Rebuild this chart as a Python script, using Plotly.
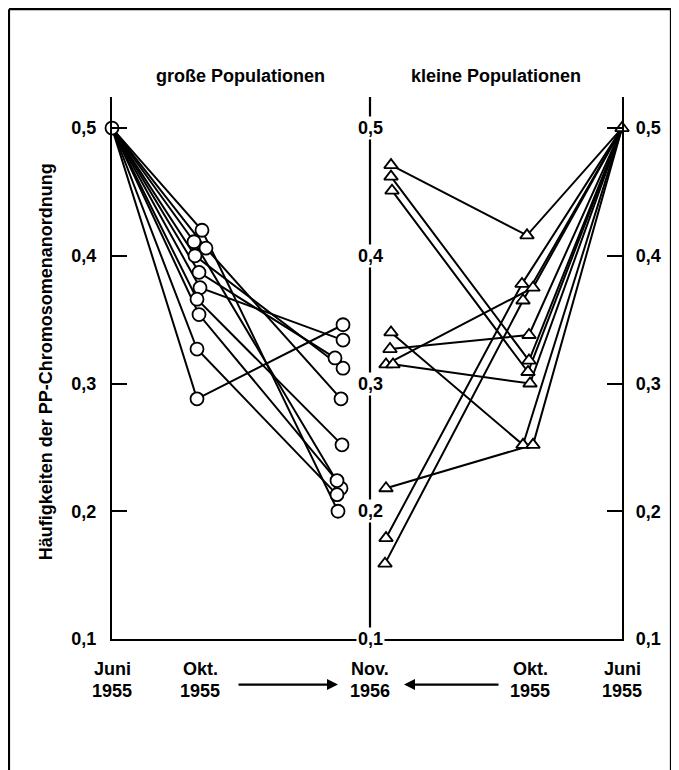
import plotly.graph_objects as go

# ---------------- data ----------------
time_months = ["Juni", "Okt.", "Nov.", "Okt.", "Juni"]
time_years = ["1955", "1955", "1956", "1955", "1955"]
juni_value = 0.5

# große Populationen: Okt. 1955 -> Nov. 1956 (one entry per population)
gross_okt = [0.420, 0.411, 0.406, 0.400, 0.387, 0.375, 0.366, 0.354, 0.327, 0.288]
gross_nov = [0.200, 0.218, 0.288, 0.312, 0.320, 0.334, 0.252, 0.224, 0.213, 0.346]

# kleine Populationen: Nov. 1956 <- Okt. 1955 (one entry per population)
klein_nov = [0.471, 0.462, 0.451, 0.340, 0.327, 0.315, 0.315, 0.218, 0.179, 0.159]
klein_okt = [0.416, 0.318, 0.309, 0.252, 0.338, 0.375, 0.300, 0.252, 0.378, 0.365]

y_tickvals = [0.1, 0.2, 0.3, 0.4, 0.5]
y_ticktext = ["0,1", "0,2", "0,3", "0,4", "0,5"]

title_left = "große Populationen"
title_right = "kleine Populationen"
y_title = "Häufigkeiten der PP-Chromosomenanordnung"

# ---------------- layout positions (axis units) ----------------
X_POS = [0, 88, 258, 418, 510]      # Juni | Okt. | Nov. | Okt. | Juni
NOV_CIRCLE = X_POS[2] - 30
NOV_TRI = X_POS[2] + 20
dx_gross_okt = [2, -6, 6, -5, -1, 0, -3, -1, -3, -3]
dx_gross_nov = [-2, 1, 1, 3, -5, 3, 2, -3, -3, 3]
dx_klein_nov = [1, 1, 2, 1, 0, -4, 3, -4, -4, -5]
dx_klein_okt = [-3, -1, -2, -7, -1, 3, 0, 3, -8, -7]

Y_MIN, Y_MAX = 0.1, 0.5243
FONT = "Liberation Sans, Arial, sans-serif"
FS = 18
LW = 2

def txt(size=FS):
    return dict(family=FONT, size=size, color="black", weight="bold")

fig = go.Figure()

# connecting lines
for i in range(len(gross_okt)):
    fig.add_trace(go.Scatter(
        x=[X_POS[0], X_POS[1] + dx_gross_okt[i], NOV_CIRCLE + dx_gross_nov[i]],
        y=[juni_value, gross_okt[i], gross_nov[i]],
        mode="lines", line=dict(color="black", width=LW),
        hoverinfo="skip", showlegend=False, cliponaxis=False))
for i in range(len(klein_okt)):
    fig.add_trace(go.Scatter(
        x=[X_POS[4], X_POS[3] + dx_klein_okt[i], NOV_TRI + dx_klein_nov[i]],
        y=[juni_value, klein_okt[i], klein_nov[i]],
        mode="lines", line=dict(color="black", width=LW),
        hoverinfo="skip", showlegend=False, cliponaxis=False))

# markers on top
cx = [X_POS[0]] + [X_POS[1] + d for d in dx_gross_okt] + [NOV_CIRCLE + d for d in dx_gross_nov]
cy = [juni_value] + gross_okt + gross_nov
fig.add_trace(go.Scatter(
    x=cx, y=cy, mode="markers",
    marker=dict(symbol="circle", size=13, color="white",
                line=dict(color="black", width=1.8)),
    showlegend=False, cliponaxis=False))

tx = [X_POS[4]] + [X_POS[3] + d for d in dx_klein_okt] + [NOV_TRI + d for d in dx_klein_nov]
ty = [juni_value] + klein_okt + klein_nov
fig.add_trace(go.Scatter(
    x=tx, y=ty, mode="markers",
    marker=dict(symbol="triangle-up", size=12, color="white",
                line=dict(color="black", width=1.8)),
    showlegend=False, cliponaxis=False, yaxis="y2"))

shapes = []
annotations = []

# middle axis line with centred labels
shapes.append(dict(type="line", xref="x", yref="y", x0=X_POS[2], x1=X_POS[2],
                   y0=Y_MIN, y1=Y_MAX, line=dict(color="black", width=2.2)))
for v, t in zip(y_tickvals, y_ticktext):
    annotations.append(dict(x=X_POS[2], y=v, xref="x", yref="y", text=t,
                            showarrow=False, bgcolor="white", font=txt(),
                            xanchor="center", yanchor="middle", borderpad=1))

# bottom time labels
for xp, m, yr in zip(X_POS, time_months, time_years):
    annotations.append(dict(x=xp, y=-0.0554, xref="x", yref="paper", text=m,
                            showarrow=False, font=txt(), xanchor="center", yanchor="middle"))
    annotations.append(dict(x=xp, y=-0.096, xref="x", yref="paper", text=yr,
                            showarrow=False, font=txt(), xanchor="center", yanchor="middle"))

# arrows toward Nov. 1956
annotations.append(dict(x=226, y=-0.084, ax=125, ay=0, xref="x", yref="paper",
                        axref="x", ayref="pixel", text="", showarrow=True,
                        arrowhead=2, arrowsize=1, arrowwidth=2.2, arrowcolor="black"))
annotations.append(dict(x=292, y=-0.084, ax=388, ay=0, xref="x", yref="paper",
                        axref="x", ayref="pixel", text="", showarrow=True,
                        arrowhead=2, arrowsize=1, arrowwidth=2.2, arrowcolor="black"))

# panel titles
annotations.append(dict(x=128, y=1.039, xref="x", yref="paper", text=title_left,
                        showarrow=False, font=txt(), xanchor="center", yanchor="middle"))
annotations.append(dict(x=384, y=1.039, xref="x", yref="paper", text=title_right,
                        showarrow=False, font=txt(), xanchor="center", yanchor="middle"))
# y title
annotations.append(dict(x=-0.129, y=0.511, xref="paper", yref="paper", text=y_title,
                        textangle=-90, showarrow=False, font=txt(),
                        xanchor="center", yanchor="middle"))

# outer frame
for x0, y0, x1, y1 in [(-0.202, 1.162, 1.096, 1.162), (-0.202, 1.162, -0.202, -0.26),
                       (1.096, 1.162, 1.096, -0.26)]:
    shapes.append(dict(type="line", xref="paper", yref="paper", x0=x0, y0=y0, x1=x1, y1=y1,
                       line=dict(color="black", width=2.2)))

yaxis_common = dict(range=[Y_MIN, Y_MAX], tickvals=y_tickvals, ticktext=y_ticktext,
                    ticks="inside", ticklen=15, tickwidth=1.8, tickcolor="black",
                    showline=True, linecolor="black", linewidth=2.2, showgrid=False,
                    zeroline=False, tickfont=txt(), fixedrange=True)

fig.update_layout(
    width=679, height=770,
    margin=dict(l=104, r=65, t=89, b=139),
    paper_bgcolor="white", plot_bgcolor="white",
    xaxis=dict(range=[0, 510], showticklabels=False, ticks="", showgrid=False,
               zeroline=False, showline=True, linecolor="black", linewidth=2.2,
               fixedrange=True),
    yaxis=dict(**yaxis_common, side="left", ticklabelstandoff=10),
    yaxis2=dict(**yaxis_common, side="right", overlaying="y", ticklabelstandoff=8),
    shapes=shapes, annotations=annotations,
    showlegend=False,
)

fig.write_html("out.html")
